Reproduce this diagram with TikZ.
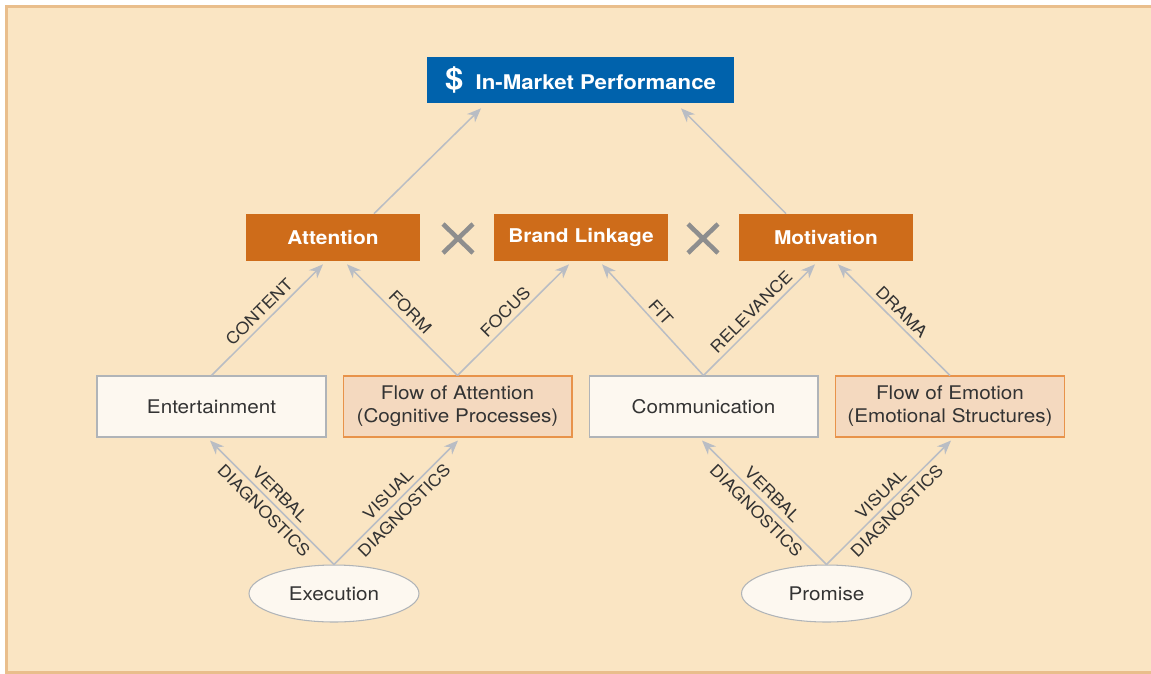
\documentclass[tikz,border=0pt]{standalone}
\usepackage{fontspec}
\setmainfont{TeX Gyre Heros}[FakeStretch=1.1]
\usetikzlibrary{shapes.geometric,arrows.meta,calc}

\definecolor{bgtan}{RGB}{250,229,195}
\definecolor{frametan}{RGB}{233,190,140}
\definecolor{perfblue}{RGB}{0,98,172}
\definecolor{factororange}{RGB}{206,108,26}
\definecolor{paleface}{RGB}{253,248,240}
\definecolor{paleedge}{RGB}{176,180,184}
\definecolor{flowface}{RGB}{244,217,191}
\definecolor{flowedge}{RGB}{232,147,74}
\definecolor{linkgray}{RGB}{185,189,196}
\definecolor{crossgray}{RGB}{142,142,142}
\definecolor{inkgray}{RGB}{51,51,51}

\tikzset{
	factor/.style={fill=factororange, text=white, inner sep=0pt,
		minimum width=3.48cm, minimum height=0.94cm,
		font=\bfseries\fontsize{10.8}{13}\selectfont},
	platebox/.style={draw=paleedge, fill=paleface, text=inkgray, line width=0.6pt,
		inner sep=0pt, align=center, minimum width=4.58cm, minimum height=1.22cm,
		font=\fontsize{10.7}{13}\selectfont},
	flowbox/.style={platebox, draw=flowedge, fill=flowface},
	origin/.style={ellipse, draw=paleedge, fill=paleface, text=inkgray, line width=0.6pt,
		inner sep=0pt, minimum width=3.4cm, minimum height=1.14cm,
		font=\fontsize{10.7}{13}\selectfont},
	link/.style={draw=linkgray, line width=0.85pt,
		-{Stealth[length=8pt,width=6.5pt,inset=2.5pt]}},
	tag/.style={sloped, text=inkgray, inner sep=2.5pt,
		font=\fontsize{9.3}{13}\selectfont},
	cross/.style={draw=crossgray, line width=2.6pt}
}

\begin{document}
\begin{tikzpicture}[x=0.02cm, y=-0.02cm]

		\useasboundingbox (0, 0) rectangle (1151, 673);
		\fill[white] (0, 0) rectangle (1151, 673);
		\fill[bgtan] (6.7, 6.7) rectangle (1151, 672);
		\draw[frametan, line width=1.7pt] (1151, 6.7) -- (6.7, 6.7) -- (6.7, 672) -- (1151, 672);

		\node[fill=perfblue, text=white, inner sep=0pt, minimum width=6.14cm, minimum height=0.92cm,
			font=\bfseries\fontsize{11.5}{13}\selectfont] (perf) at (580.5, 80)
			{{\fontsize{17}{17}\selectfont\$}\hspace{7pt}In-Market Performance};

		\node[factor] (att) at (333, 237.5) {Attention};
		\node[factor] (brand) at (581, 237.5) {Brand Linkage};
		\node[factor] (mot) at (826, 237.5) {Motivation};

			\draw[cross] (443, 224) -- (473, 253) (473, 224) -- (443, 253);
			\draw[cross] (688, 224) -- (718, 253) (718, 224) -- (688, 253);

		\node[platebox] (ent) at (211.5, 406.5) {Entertainment};
		\node[flowbox] (foa) at (457.5, 406.5) {Flow of Attention\\(Cognitive Processes)};
		\node[platebox] (com) at (703.5, 406.5) {Communication};
		\node[flowbox] (foe) at (950, 406.5) {Flow of Emotion\\(Emotional Structures)};

		\node[origin] (exe) at (334, 593.5) {Execution};
		\node[origin] (pro) at (826.5, 593.5) {Promise};

		\draw[link] ($(att.north)+(41, 0)$) -- ($(perf.south)+(-99.5, 5)$);
		\draw[link] ($(mot.north)+(-40, 0)$) -- ($(perf.south)+(100.5, 5)$);

		\draw[link] (ent.north) -- node[tag, above]{CONTENT} ($(att.south)+(-10, 3)$);
		\draw[link] (foa.north) -- node[tag, above]{FORM} ($(att.south)+(14, 3)$);
		\draw[link] (foa.north) -- node[tag, above]{FOCUS} ($(brand.south)+(-12, 3)$);
		\draw[link] (com.north) -- node[tag, above]{FIT} ($(brand.south)+(21, 3)$);
		\draw[link] (com.north) -- node[tag, above]{RELEVANCE} ($(mot.south)+(-11, 3)$);
		\draw[link] (foe.north) -- node[tag, above]{DRAMA} ($(mot.south)+(12, 3)$);

		\draw[link] (exe.north) -- node[tag, align=center]{VERBAL\\DIAGNOSTICS} ($(ent.south)+(-1.5, 3)$);
		\draw[link] (exe.north) -- node[tag, align=center]{VISUAL\\DIAGNOSTICS} ($(foa.south)+(0.5, 3)$);
		\draw[link] (pro.north) -- node[tag, align=center]{VERBAL\\DIAGNOSTICS} ($(com.south)+(-1.5, 3)$);
		\draw[link] (pro.north) -- node[tag, align=center]{VISUAL\\DIAGNOSTICS} ($(foe.south)+(1, 3)$);

	\end{tikzpicture}
\end{document}
